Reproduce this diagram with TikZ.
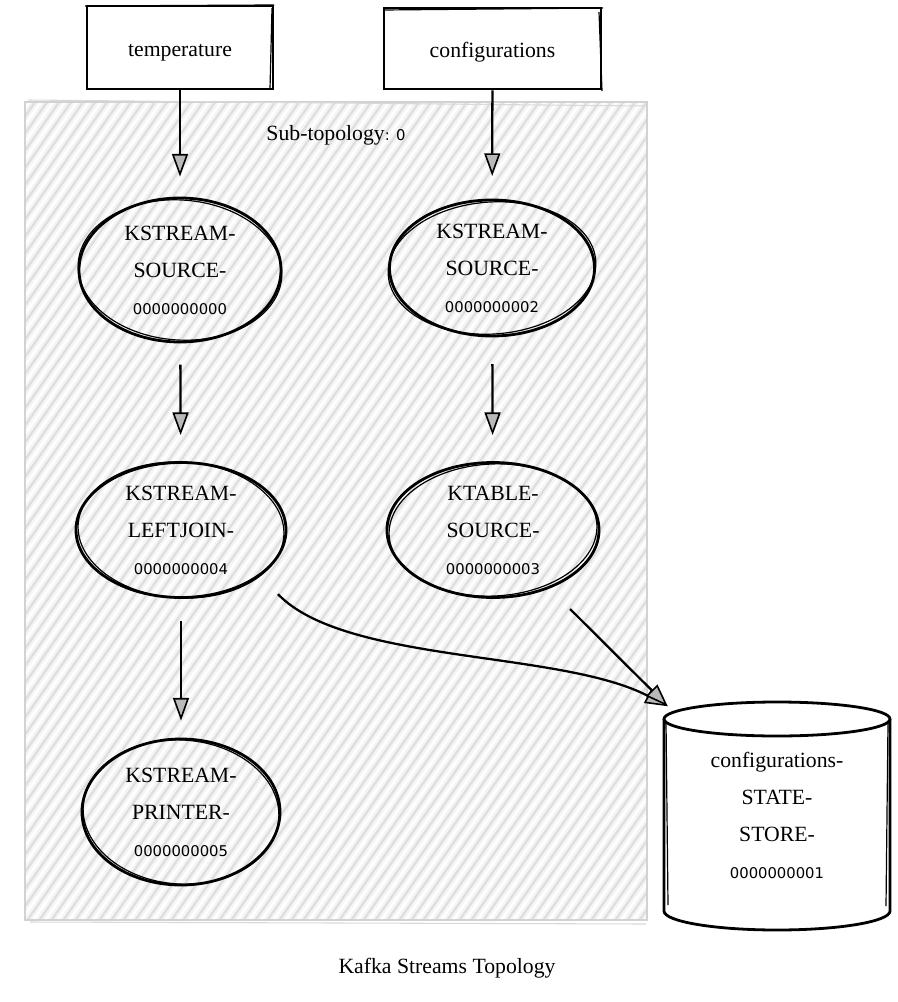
\documentclass[tikz,border=0pt]{standalone}
\usepackage{fontspec}
\setmainfont{Liberation Serif}
\newfontfamily\digitfont{DejaVu Sans}
\newcommand\digs[1]{{\digitfont\fontsize{11.1}{27.75}\selectfont #1}}
\usetikzlibrary{arrows.meta,shapes.geometric,calc}
\begin{document}
\begin{tikzpicture}[x=0.75pt,y=-0.75pt,
  lbl/.style={font=\fontsize{16.3}{27.75}\selectfont, align=center, inner sep=0pt},
  box/.style={draw, line width=2.2pt, fill=white, lbl, text height=13pt, text depth=0pt},
  proc/.style={draw, ellipse, line width=2.1pt, lbl},
  sketch/.style={line width=0.9pt},
  conn/.style={line width=1.7pt, -{Triangle[length=17pt,width=12pt,fill=gray!55,line width=1.2pt]}},
]
\useasboundingbox (0,0) rectangle (897,1002);

% sub-topology cluster
\fill[gray!8] (25,102) rectangle (647,920);
\begin{scope}
  \clip (25,102) rectangle (647,920);
  \foreach \i in {-660,-648,...,650} {
    \draw[gray!25, line width=1.8pt] (\i,925) -- ++(580,-830);
    \draw[white, line width=1.8pt] (\i+6,925) -- ++(580,-830);
  }
\end{scope}
\draw[gray!35, line width=1.6pt] (25,102) rectangle (647,920);
\draw[gray!30, line width=0.8pt] (28,100) -- (645,106);
\draw[gray!30, line width=0.8pt] (30,922) -- (646,924);
\node[lbl] (sub) at (336,135) {Sub-topology{\digitfont\fontsize{11.1}{13}\selectfont: 0}};

% topic boxes
\node[box, minimum width=139.5pt, minimum height=62.25pt] (temp) at (180,47.5) {temperature};
\node[box, minimum width=162.75pt, minimum height=60.75pt] (conf) at (492.5,48.5) {configurations};
\draw[sketch] (85,6) -- (274,5);
\draw[sketch] (272,8) -- (270,89);
\draw[sketch] (383,10) -- (603,8);
\draw[sketch] (599,12) -- (602,91);

% processors
\node[proc, minimum width=151.5pt, minimum height=108pt] (s0) at (180,270) {KSTREAM-\\SOURCE-\\\digs{0000000000}};
\node[proc, minimum width=153.75pt, minimum height=102pt] (s2) at (492,268) {KSTREAM-\\SOURCE-\\\digs{0000000002}};
\node[proc, minimum width=157.5pt, minimum height=101.25pt] (lj) at (181,530) {KSTREAM-\\LEFTJOIN-\\\digs{0000000004}};
\node[proc, minimum width=159pt, minimum height=101.25pt] (kt) at (493,530) {KTABLE-\\SOURCE-\\\digs{0000000003}};
\node[proc, minimum width=148.5pt, minimum height=109.5pt] (pr) at (181,812) {KSTREAM-\\PRINTER-\\\digs{0000000005}};
\draw[sketch] (s0.center) ellipse [x radius=102, y radius=70, rotate=-4];
\draw[sketch] (s2.center) ellipse [x radius=104, y radius=66, rotate=4];
\draw[sketch] (lj.center) ellipse [x radius=103, y radius=68, rotate=-3];
\draw[sketch] (kt.center) ellipse [x radius=104, y radius=66, rotate=3];
\draw[sketch] (pr.center) ellipse [x radius=98, y radius=72, rotate=-4];

% state store (cylinder)
\draw[line width=2.1pt] (664,719) -- (664,911)
  arc[start angle=180, end angle=0, x radius=113, y radius=19] -- (890,719);
\draw[line width=2.1pt] (777,719) ellipse [x radius=113, y radius=17];
\draw[sketch] (666,721) -- (668,905);
\draw[sketch] (888,722) -- (886,906);
\node[lbl, minimum width=169.5pt, minimum height=171pt] (db) at (777,815.5)
  {configurations-\\STATE-\\STORE-\\\digs{0000000001}};

% connectors
\draw[conn, shorten >=15pt] (temp) -- (s0);
\draw[conn, shorten >=17pt] (conf) -- (s2);
\draw[conn, shorten <=16pt, shorten >=19.5pt] (s0) -- (lj);
\draw[conn, shorten <=20pt, shorten >=19.5pt] (s2) -- (kt);
\draw[conn, shorten <=16.5pt, shorten >=12.75pt] (lj) -- (pr);
\draw[conn, shorten <=19pt] (lj.-30) .. controls (345,664) and (560,650) .. ([shift={(4,5)}]db.north west);
\draw[conn, shorten <=21.75pt] (kt.-46) -- ([shift={(4,5)}]db.north west);

% caption
\node[lbl] (caption) at (447,968) {Kafka Streams Topology};
\end{tikzpicture}
\end{document}
